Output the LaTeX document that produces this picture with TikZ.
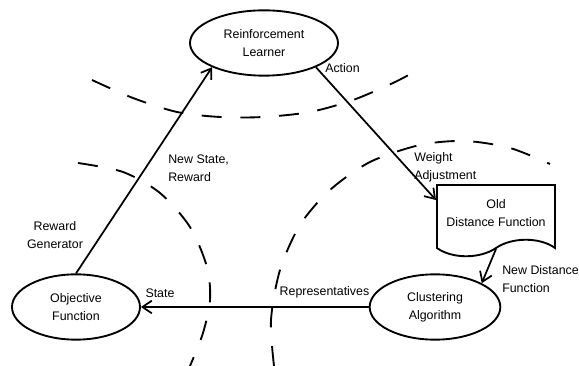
\documentclass[tikz,border=0pt]{standalone}
\usepackage{fontspec}
\setmainfont{Liberation Sans}
\usetikzlibrary{arrows.meta,shapes.geometric}
\begin{document}
\begin{tikzpicture}[
  x=0.75pt, y=-0.75pt,
  proc/.style={ellipse, draw, line width=1.4pt, align=center, inner sep=0pt, minimum height=49pt},
  lbl/.style={align=center, inner sep=0pt},
  flow/.style={-{Straight Barb[length=7pt, width=9.5pt]}, line width=1.3pt},
  border/.style={line width=1.4pt, dash pattern=on 15pt off 14pt},
  font=\fontsize{9.3}{13.5}\selectfont
]
\useasboundingbox (0,0) rectangle (579,366);

% Processes
\node[proc, minimum width=111pt] (rl) at (264,43) {Reinforcement\\Learner};
\node[proc, minimum width=96pt] (obj) at (76,307) {Objective\\Function};
\node[proc, minimum width=98pt] (clu) at (435,307) {Clustering\\Algorithm};

% Old distance function (document)
\node[lbl] (olddist) at (496,213) {Old\\Distance Function};
\begin{scope}[shift={(olddist.center)}]
  \draw[line width=1.4pt] (-59,35) -- (-59,-28) -- (59,-28) -- (59,35)
    .. controls (44,24) and (16,24) .. (0,35)
    .. controls (-16,46) and (-44,46) .. (-59,35) -- cycle;
  \coordinate (docin) at (-60,-13);
  \coordinate (docout) at (0,36);
\end{scope}

% Connections
\draw[flow] (obj.north) -- (rl.205);
\draw[flow] (rl.-25) -- (docin);
\draw[flow] (docout) -- (clu.27);
\draw[flow] (clu.west) -- (obj.east);

% Labels
\node[lbl] (rewgen) at (55,235) {Reward\\Generator};
\node[lbl, anchor=west, align=left] (newstate) at (168,168) {New State,\\Reward};
\node[lbl, anchor=west] (action) at (325,68) {Action};
\node[lbl, anchor=west, align=left] (weight) at (414,167.5) {Weight\\Adjustment};
\node[lbl, anchor=west, align=left] (newdist) at (502,279.5) {New Distance\\Function};
\node[lbl] (state) at (160,293) {State};
\node[lbl] (repr) at (324.5,292) {Representatives};

% Boundaries
\draw[border] plot[smooth] coordinates {(92,80) (133,98) (177,112) (220,117) (263,117) (310,112) (353,100) (393,83) (414,72)};
\draw[border] plot[smooth] coordinates {(78,163) (123,172) (160,193) (190,227) (207,267) (210,300) (203,333) (190,366)};
\draw[border] plot[smooth] coordinates {(274,366) (271,320) (280,270) (300,225) (330,190) (370,162) (420,145) (465,141) (510,148) (550,164)};
\end{tikzpicture}
\end{document}
